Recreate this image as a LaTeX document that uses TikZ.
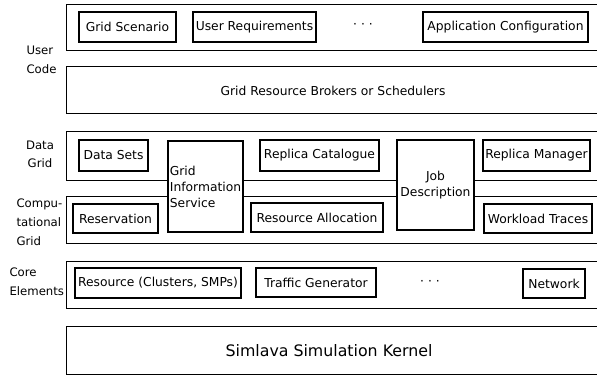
\documentclass[tikz,border=0pt]{standalone}
\usepackage{fontspec}
\setmainfont{DejaVu Sans}

\begin{document}
\begin{tikzpicture}[x=1pt,y=-1pt,font=\fontsize{12.3}{14}\selectfont,
  layer/.style={draw,line width=1.3pt,anchor=north west,minimum width=545pt,inner sep=0pt},
  comp/.style={draw,line width=1.3pt,fill=white,inner sep=1.5pt,minimum height=30pt},
  side/.style={align=left,anchor=west,font=\fontsize{11.7}{19}\selectfont}]
  \clip (0,0) rectangle (597,378);
  % layers
  \node[layer,minimum height=46pt] (usr) at (66,4) {};
  \node[layer,minimum height=47pt] (brk) at (66,66) {};
  \node at (333,91) {Grid Resource Brokers or Schedulers};
  \node[layer,minimum height=49pt] (dat) at (66,131) {};
  \node[layer,minimum height=47pt] (cmp) at (66,196) {};
  \node[layer,minimum height=47pt] (cor) at (66,261) {};
  \node[layer,minimum height=48pt] (ker) at (66,326) {};
  \node[font=\fontsize{15.8}{18}\selectfont] at (329,351) {Simlava Simulation Kernel};
  % side labels
  \node[side] (lu) at (23,60) {User\\Code};
  \node[align=center,font=\fontsize{11.7}{18}\selectfont] (ld) at (40,154) {Data\\Grid};
  \node[side] (lc) at (13,222) {Compu-\\tational\\Grid};
  \node[side] (le) at (6,282) {Core\\Elements};
  % user code
  \node[comp,minimum width=97pt] (gs) at (127.5,27) {Grid Scenario};
  \node[comp,minimum width=123pt] (ur) at (254.5,27) {User Requirements};
  \node (d1) at (363,26) {· · ·};
  \node[comp,minimum width=165pt] (ac) at (505.5,27) {Application Configuration};
  % data grid and computational grid
  \node[comp,minimum width=69pt,minimum height=31pt] (ds) at (113.5,155.5) {Data Sets};
  \node[comp,minimum width=75pt,minimum height=91pt,align=left,font=\fontsize{12.3}{16}\selectfont]
    (gis) at (205.5,186.5) {Grid\\Information\\Service};
  \node[comp,minimum width=119pt,minimum height=31pt] (rc) at (319.5,155.5) {Replica Catalogue};
  \node[comp,minimum width=77pt,minimum height=90pt,align=center,font=\fontsize{12.3}{16}\selectfont]
    (jd) at (435.5,185) {Job\\Description};
  \node[comp,minimum width=107pt,minimum height=31pt] (rm) at (536.5,155.5) {Replica Manager};
  \node[comp,minimum width=85pt,minimum height=29pt] (rs) at (115.5,218.5) {Reservation};
  \node[comp,minimum width=132pt,minimum height=29pt] (ra) at (317,217.5) {Resource Allocation};
  \node[comp,minimum width=108pt,minimum height=29pt] (wt) at (538,218.5) {Workload Traces};
  % core elements
  \node[comp,minimum width=166pt] (res) at (158,283) {Resource (Clusters, SMPs)};
  \node[comp,minimum width=120pt,minimum height=29pt] (tg) at (316,282.5) {Traffic Generator};
  \node (d2) at (430,283) {· · ·};
  \node[comp,minimum width=62pt,minimum height=29pt] (net) at (554,283.5) {Network};
\end{tikzpicture}
\end{document}
